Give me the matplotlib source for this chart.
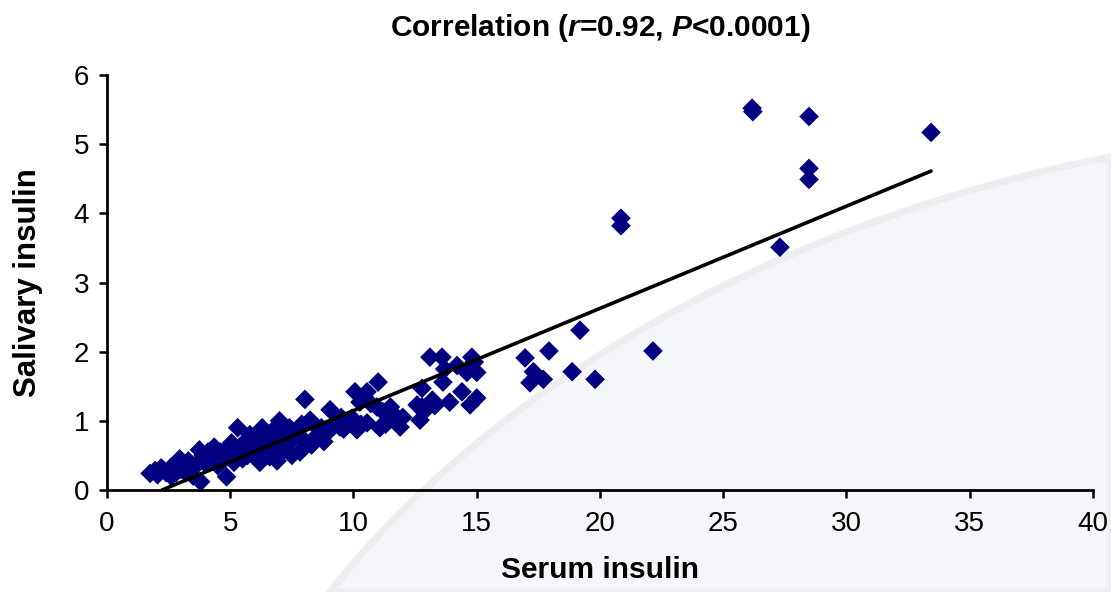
import numpy as np
import matplotlib
matplotlib.use("Agg")
import matplotlib.pyplot as plt
from matplotlib.patches import PathPatch
from matplotlib.path import Path

plt.rcParams['font.family'] = ['Liberation Sans', 'DejaVu Sans']
plt.rcParams['mathtext.fontset'] = 'custom'
plt.rcParams['mathtext.rm'] = 'Liberation Sans'
plt.rcParams['mathtext.it'] = 'Liberation Sans:italic'
plt.rcParams['mathtext.bf'] = 'Liberation Sans:bold'
plt.rcParams['mathtext.bfit'] = 'Liberation Sans:bold:italic'

# serum insulin (x) vs salivary insulin (y)
serum = [
    1.75, 1.95, 2.05, 2.2, 2.4, 2.6, 2.6, 2.8, 2.95, 3.0, 3.1, 3.2, 3.3, 3.4, 3.5, 3.6,
    3.75, 3.8, 3.85, 3.9, 4.0, 4.1, 4.2, 4.35, 4.4, 4.5, 4.6, 4.7, 4.85, 4.9, 5.0, 5.05,
    5.15, 5.3, 5.3, 5.45, 5.5, 5.6, 5.7, 5.8, 5.9, 6.0, 6.1, 6.2, 6.3, 6.4, 6.5, 6.6,
    6.7, 6.8, 6.9, 7.0, 7.0, 7.1, 7.2, 7.3, 7.4, 7.5, 7.6, 7.7, 7.83, 7.9, 8.03, 8.0,
    8.24, 8.3, 8.4, 8.5, 8.64, 8.7, 8.8, 9.05, 9.0, 9.2, 9.45, 9.5, 9.6, 9.8, 9.94,
    10.06, 10.14, 10.26, 10.3, 10.55, 10.55, 10.7, 10.95, 11.0, 11.07, 11.2, 11.3,
    11.5, 11.76, 11.89, 12.0, 12.58, 12.7, 12.78, 12.78, 12.98, 13.1, 13.2, 13.3,
    13.59, 13.63, 13.7, 13.9, 14.2, 14.4, 14.6, 14.73, 14.8, 15.0, 15.0, 14.9,
    16.96, 17.3, 17.16, 17.7, 17.93, 18.87, 19.19, 19.8, 20.85, 20.85, 22.15,
    26.17, 26.2, 27.3, 28.48, 28.48, 28.48, 33.43,
]
salivary = [
    0.24, 0.28, 0.22, 0.32, 0.25, 0.33, 0.2, 0.25, 0.45, 0.3, 0.38, 0.25, 0.42, 0.32, 0.2, 0.35,
    0.58, 0.12, 0.45, 0.5, 0.38, 0.55, 0.42, 0.62, 0.5, 0.35, 0.55, 0.45, 0.19, 0.6, 0.5, 0.68,
    0.4, 0.9, 0.55, 0.62, 0.45, 0.7, 0.5, 0.8, 0.65, 0.55, 0.72, 0.4, 0.9, 0.6, 0.75, 0.48,
    0.85, 0.62, 0.42, 1.0, 0.7, 0.55, 0.8, 0.65, 0.9, 0.5, 0.75, 0.85, 0.55, 0.95, 1.31, 0.72,
    1.01, 0.65, 0.95, 0.78, 0.77, 0.9, 0.7, 1.16, 0.85, 0.95, 0.91, 1.05, 0.88, 1.0, 1.04,
    1.42, 0.87, 1.27, 0.95, 1.42, 0.97, 1.25, 1.2, 1.56, 0.9, 1.13, 0.95,
    1.2, 1.05, 0.91, 1.05, 1.23, 1.01, 1.47, 1.2, 1.18, 1.92, 1.3, 1.22,
    1.92, 1.56, 1.75, 1.27, 1.8, 1.42, 1.7, 1.23, 1.92, 1.7, 1.33, 1.85,
    1.91, 1.71, 1.55, 1.6, 2.01, 1.71, 2.31, 1.6, 3.93, 3.82, 2.01,
    5.52, 5.47, 3.51, 5.40, 4.65, 4.49, 5.17,
]

# fitted regression line
fit_slope = 0.1478
fit_intercept = -0.33
fit_x = [2.23, 33.43]

fig = plt.figure(figsize=(11.11, 5.92), dpi=100)

# soft background swoosh, drawn in a full-figure axes behind the plot
bg = fig.add_axes([0, 0, 1, 1], zorder=-1)
bg.set_xlim(0, 1)
bg.set_ylim(0, 1)
bg.axis('off')
swoosh = Path([(0.297, 0.0), (0.43, 0.32), (0.68, 0.62), (1.0, 0.735),
               (1.0, 0.0), (0.297, 0.0)],
              [Path.MOVETO, Path.CURVE4, Path.CURVE4, Path.CURVE4,
               Path.LINETO, Path.CLOSEPOLY])
bg.add_patch(PathPatch(swoosh, facecolor='#f5f6fa', edgecolor='#eeeef1', lw=5))

ax = fig.add_axes([0.0963, 0.1723, 0.8875, 0.701])
ax.patch.set_alpha(0)

ax.scatter(serum, salivary, marker='D', s=100, color='#000080', edgecolors='none', zorder=3)
fx = np.array(fit_x)
ax.plot(fx, fit_slope * fx + fit_intercept, color='black', lw=2.6, zorder=4,
        solid_capstyle='round')

ax.set_xlim(0, 40)
ax.set_ylim(0, 6)
ax.set_xticks(range(0, 41, 5))
ax.set_yticks(range(0, 7))
for s in ['top', 'right']:
    ax.spines[s].set_visible(False)
for s in ['left', 'bottom']:
    ax.spines[s].set_linewidth(2.0)
ax.tick_params(axis='both', direction='out', length=6, width=1.8, labelsize=20)
ax.tick_params(axis='x', pad=9)
ax.tick_params(axis='y', pad=7)

ax.set_xlabel('Serum insulin', fontsize=21.5, fontweight='bold', labelpad=14)
ax.set_ylabel('Salivary insulin', fontsize=22.5, fontweight='bold', labelpad=22)

fig.text(0.54, 0.953, r'Correlation ($\bfit{r}$=0.92, $\bfit{P}$<0.0001)',
         ha='center', va='center', fontsize=21.5, fontweight='bold')

fig.savefig('out.png', dpi=100)
